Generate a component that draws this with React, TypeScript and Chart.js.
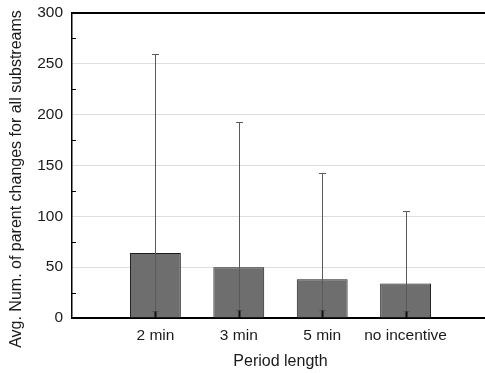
import React, { useEffect, useRef } from "react";
import { Chart, registerables } from "chart.js";

Chart.register(...registerables);

const categories = ["", "2 min", "3 min", "5 min", "no incentive", ""];
const avgValues = [null, 64, 50, 38, 34, null];
const upperValues = [null, 260, 193, 143, 105, null];
const lowerValues = [null, 7, 7.5, 7.5, 6.5, null];
const yTicks = [0, 50, 100, 150, 200, 250, 300];
const minorTicks = [25, 75, 125, 175, 225, 275];
const yTitle = "Avg. Num. of parent changes for all substreams";
const xTitle = "Period length";

const FONT = "'Liberation Sans', Arial, sans-serif";

const decorPlugin = {
  id: "decor",
  afterDatasetsDraw(chart: any) {
    const ctx = chart.ctx;
    const ys = chart.scales.y;
    const area = chart.chartArea;
    const meta = chart.getDatasetMeta(0);
    ctx.save();
    meta.data.forEach((bar: any, i: number) => {
      const v = avgValues[i];
      if (v == null) return;
      const x = Math.round(bar.x) + 0.5;
      const yTop = Math.round(ys.getPixelForValue(upperValues[i] as number)) + 0.5;
      const yLow = Math.round(ys.getPixelForValue(lowerValues[i] as number)) + 0.5;
      const y0 = ys.getPixelForValue(0);
      ctx.strokeStyle = "#5a5a5a";
      ctx.lineWidth = 1;
      ctx.beginPath();
      ctx.moveTo(x, yLow);
      ctx.lineTo(x, yTop);
      ctx.moveTo(x - 3.5, yTop);
      ctx.lineTo(x + 3.5, yTop);
      ctx.moveTo(x - 3.5, yLow);
      ctx.lineTo(x + 3.5, yLow);
      ctx.stroke();
      ctx.strokeStyle = "#111";
      ctx.lineWidth = 2;
      ctx.beginPath();
      ctx.moveTo(x, y0);
      ctx.lineTo(x, yLow);
      ctx.stroke();
    });
    // top border
    ctx.strokeStyle = "#000";
    ctx.lineWidth = 2;
    ctx.beginPath();
    ctx.moveTo(area.left, area.top);
    ctx.lineTo(area.right, area.top);
    ctx.stroke();
    // minor ticks on left axis, inward
    ctx.lineWidth = 1;
    ctx.beginPath();
    minorTicks.forEach((t) => {
      const y = Math.round(ys.getPixelForValue(t)) + 0.5;
      ctx.moveTo(area.left, y);
      ctx.lineTo(area.left + 4, y);
    });
    ctx.stroke();
    // y title
    ctx.fillStyle = "#1a1a1a";
    ctx.font = `16px ${FONT}`;
    ctx.textAlign = "center";
    ctx.textBaseline = "middle";
    ctx.translate(17, 179);
    ctx.rotate(-Math.PI / 2);
    ctx.fillText(yTitle, 0, 0);
    ctx.restore();
  },
};

export default function App() {
  const ref = useRef<HTMLCanvasElement | null>(null);
  useEffect(() => {
    if (!ref.current) return;
    const chart = new Chart(ref.current, {
      type: "bar",
      data: {
        labels: categories,
        datasets: [
          {
            data: avgValues as any,
            backgroundColor: "#6e6e6e",
            borderColor: "#1a1a1a",
            borderWidth: 1,
            barPercentage: 0.61,
            categoryPercentage: 1,
          },
        ],
      },
      options: {
        animation: false,
        responsive: false,
        devicePixelRatio: 1,
        layout: { padding: { top: 13, right: 0, left: 0, bottom: 0 } },
        plugins: { legend: { display: false }, tooltip: { enabled: false } },
        scales: {
          x: {
            offset: false,
            grid: { display: false, drawTicks: false },
            border: { color: "#000", width: 2 },
            ticks: {
              autoSkip: false,
              maxRotation: 0,
              padding: 8,
              color: "#1a1a1a",
              font: { family: FONT, size: 15.5 },
            },
            title: {
              display: true,
              text: xTitle,
              color: "#1a1a1a",
              font: { family: FONT, size: 16 },
              padding: { top: 4, bottom: 2 },
            },
            afterFit(scale: any) {
              scale.height = 55;
              scale.paddingLeft = 0;
              scale.paddingRight = 0;
            },
          },
          y: {
            min: 0,
            max: 300,
            afterBuildTicks(scale: any) {
              scale.ticks = yTicks.map((v) => ({ value: v }));
            },
            grid: {
              drawTicks: false,
              color: (c: any) =>
                c.tick && (c.tick.value === 0 || c.tick.value === 300)
                  ? "rgba(0,0,0,0)"
                  : "#dedede",
            },
            border: { color: "#000", width: 1.5 },
            ticks: {
              padding: 9,
              color: "#1a1a1a",
              font: { family: FONT, size: 15.5 },
            },
            afterFit(scale: any) {
              scale.width = 72;
              scale.paddingTop = 0;
              scale.paddingBottom = 0;
            },
          },
        },
      },
      plugins: [decorPlugin],
    });
    return () => chart.destroy();
  }, []);
  return (
    <div
      style={{
        position: "absolute",
        left: 0,
        top: 0,
        width: 485,
        height: 373,
        overflow: "hidden",
        background: "#fff",
      }}
    >
      <canvas ref={ref} width={489} height={373} style={{ display: "block" }} />
    </div>
  );
}
